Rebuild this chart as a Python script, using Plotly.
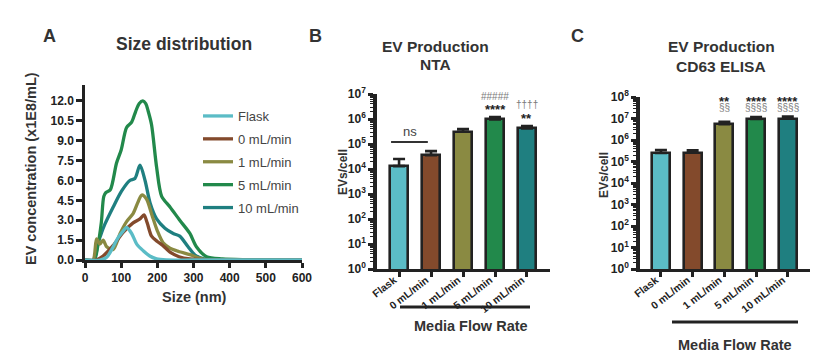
import plotly.graph_objects as go

# page body has an 8px margin; figure is sized so that it fills the window exactly
OFF = 8
W, H = 818 - OFF, 361 - OFF
FONT = "Liberation Sans, Arial, sans-serif"
DARK = "#222222"
TXT = "#333333"
GRAY = "#7a7a7a"

# ---------------- data ----------------
categories = ["Flask", "0 mL/min", "1 mL/min", "5 mL/min", "10 mL/min"]
colors = ["#5bbcc6", "#834a2c", "#8a8a42", "#22894b", "#1f7f80"]

# Panel A: size distribution (x1E8/mL)
flask_x = [0, 41, 60, 78, 92, 106, 115, 129, 143, 161, 179, 198, 225, 300, 400, 500, 600]
flask_y = [0, 0, 0.2, 1.0, 1.7, 2.2, 2.45, 2.0, 1.2, 0.7, 0.3, 0.08, 0, 0, 0, 0, 0]
ml0_x = [0, 30, 50, 78, 106, 133, 152, 163, 172, 184, 200, 215, 235, 260, 290, 350, 600]
ml0_y = [0, 0, 0.3, 1.1, 2.1, 2.8, 3.1, 3.4, 2.8, 1.8, 1.4, 1.1, 0.6, 0.25, 0.08, 0, 0]
ml1_x = [0, 22, 32, 41, 50, 60, 78, 97, 115, 133, 147, 157, 170, 185, 200, 216, 235, 253, 290, 330, 400, 600]
ml1_y = [0, 0, 1.6, 1.2, 1.5, 1.0, 0.8, 2.0, 2.9, 3.5, 4.4, 4.9, 4.6, 3.4, 2.2, 1.3, 0.9, 0.7, 0.4, 0.05, 0, 0]
ml5_x = [0, 25, 35, 45, 52, 58, 70, 87, 100, 115, 129, 140, 150, 160, 168, 175, 184, 198, 212, 235, 262, 290, 308, 336, 380, 450, 600]
ml5_y = [0, 0, 1.0, 2.8, 4.8, 5.1, 5.3, 7.3, 8.3, 10.0, 10.4, 11.2, 11.8, 12.0, 11.8, 11.2, 10.2, 7.0, 4.8, 4.0, 3.0, 2.0, 1.0, 0.25, 0.08, 0.03, 0]
ml10_x = [0, 25, 35, 45, 55, 78, 101, 124, 138, 152, 166, 180, 198, 221, 244, 262, 285, 304, 330, 400, 600]
ml10_y = [0, 0, 1.2, 2.0, 2.7, 4.0, 5.2, 6.0, 6.15, 7.15, 6.0, 4.3, 3.1, 2.4, 2.0, 1.8, 1.0, 0.38, 0.08, 0.02, 0]

size_ticks = [0, 100, 200, 300, 400, 500, 600]
conc_ticks = [0, 1.5, 3.0, 4.5, 6.0, 7.5, 9.0, 10.5, 12.0]

# Panel B: NTA (EVs/cell): mean and top of error bar
nta_mean = [1.3e4, 3.6e4, 3.1e5, 9.7e5, 4.2e5]
nta_upper = [2.5e4, 5.2e4, 4.0e5, 1.2e6, 5.2e5]
# Panel C: CD63 ELISA
elisa_mean = [2.5e5, 2.6e5, 5.4e6, 9.5e6, 1.0e7]
elisa_upper = [3.4e5, 3.3e5, 7.1e6, 1.17e7, 1.24e7]

nta_tickvals = [1, 10, 100, 1e3, 1e4, 1e5, 1e6, 1e7]
nta_ticktext = ["10<sup>0</sup>", "10<sup>1</sup>", "10<sup>2</sup>", "10<sup>3</sup>",
                "10<sup>4</sup>", "10<sup>5</sup>", "10<sup>6</sup>", "10<sup>7</sup>"]
elisa_tickvals = [1, 10, 100, 1e3, 1e4, 1e5, 1e6, 1e7, 1e8]
elisa_ticktext = nta_ticktext + ["10<sup>8</sup>"]

# significance marks: text, category, log10 position, grey?
sig_b_text = ["#####", "****", "\u2020\u2020\u2020\u2020", "**"]
sig_b_cat = ["5 mL/min", "5 mL/min", "10 mL/min", "10 mL/min"]
sig_b_pos = [6.88, 6.52, 6.56, 6.16]
sig_b_grey = [True, False, True, False]

sig_c_text = ["**", "\u00a7\u00a7", "****", "\u00a7\u00a7\u00a7\u00a7", "#", "****", "\u00a7\u00a7\u00a7\u00a7"]
sig_c_cat = ["1 mL/min", "1 mL/min", "5 mL/min", "5 mL/min", "10 mL/min", "10 mL/min", "10 mL/min"]
sig_c_pos = [8.0, 7.49, 8.0, 7.49, 8.56, 8.0, 7.49]
sig_c_grey = [False, True, False, True, True, False, True]


def px_x(p):
    return (p - OFF) / W


def px_y(p):
    return 1 - (p - OFF) / H


fig = go.Figure()

# ---------- Panel A ----------
series_a = [
    ("Flask", flask_x, flask_y, colors[0]),
    ("0 mL/min", ml0_x, ml0_y, colors[1]),
    ("1 mL/min", ml1_x, ml1_y, colors[2]),
    ("5 mL/min", ml5_x, ml5_y, colors[3]),
    ("10 mL/min", ml10_x, ml10_y, colors[4]),
]
for rank, (name, xs, ys, col) in reversed(list(enumerate(series_a))):
    fig.add_trace(go.Scatter(
        x=xs, y=ys, name=name, mode="lines",
        line=dict(color=col, width=3.3, shape="spline", smoothing=0.8),
        xaxis="x", yaxis="y", legendrank=rank + 1, legendgroup=name,
    ))

# ---------- Panel B ----------
fig.add_trace(go.Bar(
    x=categories, y=nta_mean, xaxis="x2", yaxis="y2", showlegend=False,
    marker=dict(color=colors, line=dict(color=DARK, width=2.6)), width=0.56,
    error_y=dict(type="data", symmetric=False,
                 array=[u - m for u, m in zip(nta_upper, nta_mean)],
                 arrayminus=[0] * 5, color=DARK, thickness=2.6, width=6),
))

# ---------- Panel C ----------
fig.add_trace(go.Bar(
    x=categories, y=elisa_mean, xaxis="x3", yaxis="y3", showlegend=False,
    marker=dict(color=colors, line=dict(color=DARK, width=2.6)), width=0.56,
    error_y=dict(type="data", symmetric=False,
                 array=[u - m for u, m in zip(elisa_upper, elisa_mean)],
                 arrayminus=[0] * 5, color=DARK, thickness=2.6, width=6),
))

tickfont = dict(family=FONT, size=12, color=DARK, weight="bold")
cat_tickfont = dict(family=FONT, size=10.5, color=DARK, weight="bold")
axis_base = dict(showline=True, linecolor=DARK, showgrid=False, zeroline=False,
                 ticks="outside", tickcolor=DARK, automargin=False)

minor_log = dict(ticks="outside", ticklen=3, tickwidth=1.2, tickcolor=DARK, dtick="D1", showgrid=False)

fig.update_layout(
    template="none",
    width=W, height=H,
    margin=dict(l=0, r=0, t=0, b=0, pad=0, autoexpand=False),
    paper_bgcolor="white", plot_bgcolor="white",
    font=dict(family=FONT, color=TXT),
    bargap=0,
    xaxis=dict(domain=[px_x(85), px_x(302)], range=[0, 600], tickvals=size_ticks,
               linewidth=2.5, ticklen=5, tickwidth=2.5, anchor="y", tickfont=tickfont,
               **axis_base),
    yaxis=dict(domain=[px_y(260), px_y(85)], range=[0, 13.2], tickvals=conc_ticks,
               tickformat=".1f", linewidth=2.5, ticklen=6, tickwidth=2.5, anchor="x",
               tickfont=tickfont, **axis_base),
    xaxis2=dict(domain=[px_x(377), px_x(550)], range=[-0.69, 4.72], type="category",
                categoryorder="array", categoryarray=categories, tickangle=-38,
                linewidth=3, ticklen=5, tickwidth=2.5, anchor="y2", tickfont=cat_tickfont,
                **axis_base),
    yaxis2=dict(domain=[px_y(269), px_y(94)], type="log", range=[0, 7],
                tickmode="array", tickvals=nta_tickvals, ticktext=nta_ticktext,
                linewidth=3.5, ticklen=5, tickwidth=2.5, anchor="x2", minor=minor_log,
                tickfont=tickfont, **axis_base),
    xaxis3=dict(domain=[px_x(640), px_x(810)], range=[-0.66, 4.7], type="category",
                categoryorder="array", categoryarray=categories, tickangle=-38,
                linewidth=3, ticklen=5, tickwidth=2.5, anchor="y3", tickfont=cat_tickfont,
                **axis_base),
    yaxis3=dict(domain=[px_y(269), px_y(97)], type="log", range=[0, 8],
                tickmode="array", tickvals=elisa_tickvals, ticktext=elisa_ticktext,
                linewidth=3.5, ticklen=5, tickwidth=2.5, anchor="x3", minor=minor_log,
                tickfont=tickfont, **axis_base),
    legend=dict(x=px_x(198), y=px_y(101), xanchor="left", yanchor="top",
                font=dict(family=FONT, size=13, color="#444"),
                bgcolor="rgba(0,0,0,0)", tracegroupgap=3, traceorder="grouped",
                itemwidth=30),
)

# pull the angled category labels up towards the axis, ending beside the tick
for ax in ("xaxis2", "xaxis3"):
    try:
        fig.layout[ax].ticklabelstandoff = -7
        fig.layout[ax].ticklabelshift = -5
    except Exception:
        pass

ann = []


def txt(x, y, s, size, bold=True, color=TXT, angle=0, xref="paper", yref="paper", **kw):
    ann.append(dict(x=x, y=y, xref=xref, yref=yref, text=s, showarrow=False,
                    textangle=angle, xanchor="center", yanchor="middle",
                    font=dict(family=FONT, size=size, color=color,
                              weight="bold" if bold else "normal"), **kw))


# panel letters
txt(px_x(49), px_y(36), "A", 18)
txt(px_x(315), px_y(36), "B", 18)
txt(px_x(577), px_y(36), "C", 18)
# titles
txt(px_x(184), px_y(44), "Size distribution", 17.5)
txt(px_x(436), px_y(47), "EV Production", 15.5)
txt(px_x(436), px_y(64), "NTA", 15.5)
txt(px_x(721), px_y(47), "EV Production", 15.5)
txt(px_x(721), px_y(66), "CD63 ELISA", 15.5)
# axis titles
txt(px_x(31), px_y(169), "EV concentration (x1E8/mL)", 14.5, angle=-90)
txt(px_x(194), px_y(297), "Size (nm)", 14.5)
txt(px_x(343), px_y(172), "EVs/cell", 12, angle=-90)
txt(px_x(604), px_y(175), "EVs/cell", 12, angle=-90)
txt(px_x(471), px_y(326), "Media Flow Rate", 14.5)
txt(px_x(735), px_y(345), "Media Flow Rate", 14.5)
# ns
txt(0.33, 5.48, "ns", 13, bold=False, color="#444", xref="x2", yref="y2")

for s, c, p, g in zip(sig_b_text, sig_b_cat, sig_b_pos, sig_b_grey):
    star = "*" in s
    txt(c, p, s, 13 if star else 10, bold=star, color=GRAY if g else DARK,
        xref="x2", yref="y2", yshift=-4 if star else 0)
for s, c, p, g in zip(sig_c_text, sig_c_cat, sig_c_pos, sig_c_grey):
    star = "*" in s
    txt(c, p, s, 13 if star else 10, bold=star, color=GRAY if g else DARK,
        xref="x3", yref="y3", yshift=-4 if star else 0)

fig.update_layout(annotations=ann)

fig.update_layout(shapes=[
    dict(type="line", xref="x2", yref="paper", x0=-0.25, x1=0.9, y0=px_y(142), y1=px_y(142),
         line=dict(color="#333", width=2)),
    dict(type="line", xref="paper", yref="paper", x0=px_x(400), x1=px_x(530),
         y0=px_y(307), y1=px_y(307), line=dict(color=DARK, width=3)),
    dict(type="line", xref="paper", yref="paper", x0=px_x(672), x1=px_x(798),
         y0=px_y(322), y1=px_y(322), line=dict(color=DARK, width=3)),
])

fig.write_html("out.html")
